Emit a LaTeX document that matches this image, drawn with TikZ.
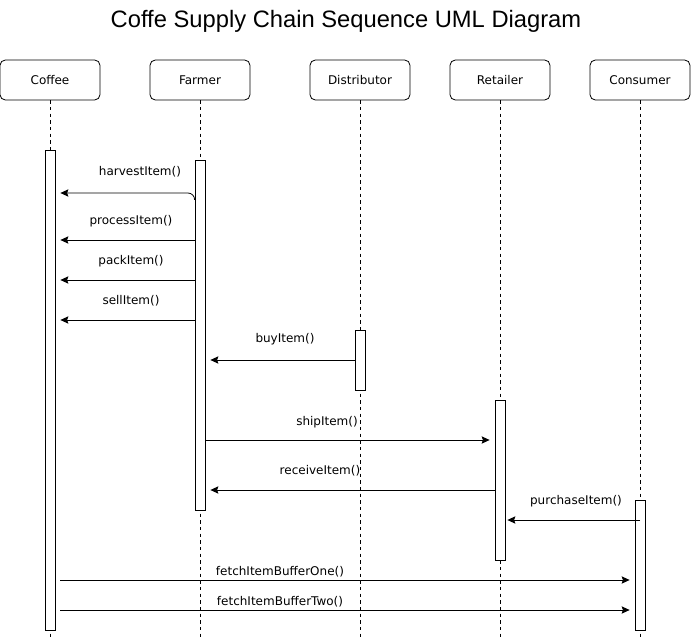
\documentclass[tikz,border=0pt]{standalone}
\usepackage{fontspec}
\setmainfont{DejaVu Sans}
\newfontfamily\titlefont{Liberation Sans}
\usetikzlibrary{arrows.meta, positioning, calc}

\tikzset{
  head/.style={rectangle, rounded corners=4pt, draw=black, fill=white, line width=0.6pt,
               minimum width=75pt, minimum height=30pt, font=\fontsize{9}{11}\selectfont},
  lifeline/.style={draw=black, dashed, dash pattern=on 2.5pt off 2.5pt, line width=0.6pt},
  activation/.style={rectangle, draw=black, fill=white, line width=0.6pt,
                     minimum width=7.5pt, inner sep=0pt},
  msg/.style={draw=black, line width=0.6pt, -{Stealth[length=6pt, width=5.5pt, inset=1pt]}},
  msglabel/.style={font=\fontsize{9}{11}\selectfont, inner sep=1pt}
}

\begin{document}
\begin{tikzpicture}[x=0.75pt, y=-0.75pt]
  \useasboundingbox (0,0) rectangle (691,641);

  % Title
  \node[font=\titlefont\fontsize{17.8}{20}\selectfont] (title) at (346,21) {Coffe Supply Chain Sequence UML Diagram};

  % ===== Participants and lifelines =====
  \foreach \name/\x/\lbl in {coffee/50/Coffee, farmer/200/Farmer, distributor/360/Distributor,
                             retailer/500/Retailer, consumer/640/Consumer} {
    \node[head] (\name) at (\x, 80) {\lbl};
    \coordinate (\name-end) at (\x, 637);
    \draw[lifeline] (\name.south) -- (\name-end);
  }

  % ===== Activation bars =====
  \node[activation, minimum height=360pt]   (coffeeA)      at (50, 390) {};
  \node[activation, minimum height=262.5pt] (farmerA)      at (200, 335) {};
  \node[activation, minimum height=45pt]    (distributorA) at (360, 360) {};
  \node[activation, minimum height=120pt]   (retailerA)    at (500, 480) {};
  \node[activation, minimum height=97.5pt]  (consumerA)    at (640, 565) {};

  % ===== Messages: Farmer -> Coffee =====
  \draw[msg, rounded corners=5pt, shorten >=3.75pt] (farmerA.west |- 0,200) -- (farmerA.west |- 0,193) -- (coffeeA.east |- 0,193);
  \node[msglabel] (harvest) at (140, 172) {harvestItem()};

  \foreach \lbl/\ly/\ay in {processItem()/221/240, packItem()/261/280, sellItem()/301/320} {
    \draw[msg, shorten >=3.75pt] (farmerA.west |- 0,\ay) -- (coffeeA.east |- 0,\ay);
    \node[msglabel] at (131, \ly) {\lbl};
  }

  % ===== Distributor / Retailer =====
  \draw[msg, shorten >=3.75pt] (distributorA.west |- 0,360) -- (farmerA.east |- 0,360);
  \node[msglabel] (buy) at (285, 339) {buyItem()};

  \draw[msg, shorten >=3.75pt] (farmerA.east |- 0,440) -- (retailerA.west |- 0,440);
  \node[msglabel] (ship) at (327, 422) {shipItem()};

  \draw[msg, shorten >=3.75pt] (retailerA.west |- 0,490) -- (farmerA.east |- 0,490);
  \node[msglabel] (receive) at (320, 471) {receiveItem()};

  % ===== Consumer =====
  \draw[msg, shorten >=1.5pt] (consumerA.center |- 0,520) -- (retailerA.east |- 0,520);
  \node[msglabel] (purchase) at (576, 501) {purchaseItem()};

  \draw[msg, shorten <=3.75pt, shorten >=3.75pt] (coffeeA.east |- 0,580) -- (consumerA.west |- 0,580);
  \node[msglabel] (fetchOne) at (280, 572) {fetchItemBufferOne()};

  \draw[msg, shorten <=3.75pt, shorten >=3.75pt] (coffeeA.east |- 0,610) -- (consumerA.west |- 0,610);
  \node[msglabel] (fetchTwo) at (280, 602) {fetchItemBufferTwo()};
\end{tikzpicture}
\end{document}
